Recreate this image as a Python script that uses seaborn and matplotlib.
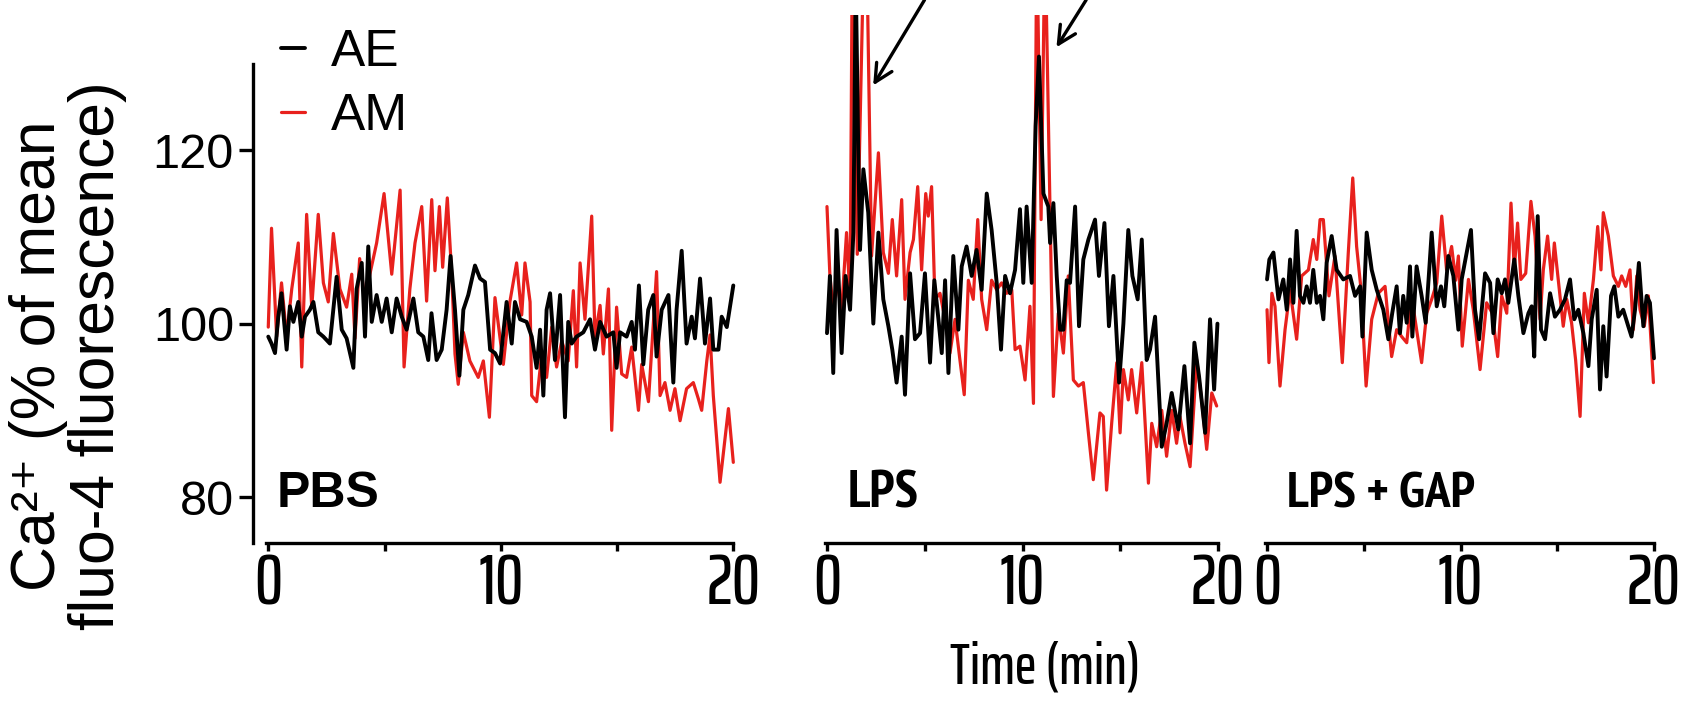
import matplotlib
matplotlib.use('Agg')
import matplotlib.pyplot as plt
import seaborn as sns

# ---- data (time in min, Ca2+ in % of mean fluo-4) ----
pbs_t_ae = [0, 0.14, 0.29, 0.43, 0.57, 0.79, 0.93, 1.08, 1.29, 1.44,
            1.58, 1.79, 1.94, 2.15, 2.37, 2.65, 2.94, 3.16, 3.37, 3.66,
            3.80, 4.02, 4.16, 4.30, 4.45, 4.66, 4.88, 5.09, 5.31, 5.52,
            5.74, 5.95, 6.24, 6.45, 6.67, 6.88, 7.02, 7.24, 7.46, 7.67,
            7.84, 8.03, 8.22, 8.39, 8.60, 8.89, 9.11, 9.32, 9.54, 9.75,
            9.97, 10.25, 10.47, 10.61, 10.83, 11.11, 11.33, 11.54, 11.69, 11.83,
            11.97, 12.12, 12.33, 12.55, 12.76, 12.90, 13.05, 13.26, 13.55, 13.84,
            14.05, 14.27, 14.55, 14.84, 14.98, 15.13, 15.41, 15.63, 15.77, 15.94,
            16.13, 16.34, 16.56, 16.70, 16.92, 17.21, 17.42, 17.56, 17.78, 17.99,
            18.21, 18.35, 18.57, 18.78, 19.00, 19.14, 19.36, 19.50, 19.72, 20.0]
pbs_ae = [98.5, 97.7, 96.6, 100.8, 103.5, 97, 102, 100.2, 102.5, 98.5,
          100.8, 101.6, 102.5, 99, 98.5, 97.7, 105.4, 99.3, 98.3, 94.9,
          104, 107, 98.5, 108.9, 100.2, 103.3, 100.2, 102.9, 99, 102.9,
          100.8, 99.3, 102.9, 99, 98.5, 95.8, 101.2, 95.8, 97, 101.6,
          107.8, 101.6, 94, 101.6, 103.3, 106.7, 105.2, 104.8, 97, 96.6,
          95.4, 102.5, 97.7, 102.5, 100.5, 100.2, 98.5, 94.9, 99.3, 91.7,
          101.6, 103.5, 95.8, 103.3, 89.2, 100.2, 97.7, 98.5, 99, 100.5,
          97, 100.2, 98.5, 99, 94.9, 99, 98.5, 100.2, 97, 104.4,
          95.3, 101.6, 103.3, 96.2, 101.6, 103.3, 93.2, 101.6, 108.4, 97.7,
          100.8, 98.3, 105.2, 97.7, 102.9, 97, 97, 100.8, 99.6, 104.4]

pbs_t_am = [0, 0.14, 0.36, 0.57, 0.79, 1.01, 1.29, 1.44, 1.65, 1.87,
            2.15, 2.37, 2.58, 2.80, 3.08, 3.37, 3.59, 3.73, 3.93, 4.16,
            4.37, 4.66, 4.98, 5.31, 5.67, 5.84, 6.09, 6.31, 6.60, 6.81,
            7.03, 7.17, 7.36, 7.50, 7.70, 7.89, 8.03, 8.17, 8.39, 8.67,
            9.03, 9.25, 9.51, 9.75, 10.11, 10.39, 10.68, 10.90, 11.04, 11.26,
            11.33, 11.54, 11.76, 11.97, 12.19, 12.40, 12.62, 12.90, 13.12, 13.26,
            13.41, 13.62, 13.91, 14.05, 14.27, 14.41, 14.63, 14.77, 14.98, 15.20,
            15.41, 15.63, 15.92, 16.06, 16.35, 16.70, 16.85, 17.06, 17.28, 17.49,
            17.71, 17.99, 18.28, 18.50, 18.64, 18.86, 19.00, 19.14, 19.43, 19.79,
            20.0]
pbs_am = [99.6, 111, 98.5, 104.7, 98.5, 104, 109.3, 95, 112.6, 101.9,
          112.6, 104.7, 102.5, 110.4, 104, 101.9, 105.7, 98.3, 107.5, 102.6,
          105.7, 109.3, 115, 105.7, 115.4, 95, 104, 109.3, 113.5, 102.6,
          114.3, 106.1, 113.5, 106.5, 114.5, 105.7, 96.5, 93, 99, 95.7,
          93.8, 95.7, 89.2, 103, 95.3, 102.5, 107, 101, 107, 102.5,
          91.7, 91, 96.5, 93.8, 99.6, 95, 98, 95.7, 103.8, 95,
          107, 100.5, 112.4, 98.5, 102.1, 96.5, 104, 87.7, 101.9, 94.2,
          93.8, 97.3, 90, 95.3, 91, 106, 91.7, 93.2, 90, 92.5,
          88.8, 92.5, 93.2, 91.3, 90, 95.7, 98.7, 91.7, 81.7, 90.2,
          84]

lps_t_ae = [0, 0.15, 0.32, 0.49, 0.75, 0.95, 1.18, 1.35, 1.47, 1.60,
            1.69, 1.86, 2.11, 2.37, 2.63, 2.88, 3.14, 3.34, 3.56, 3.82,
            3.99, 4.25, 4.50, 4.76, 5.01, 5.27, 5.49, 5.70, 5.87, 6.04,
            6.21, 6.46, 6.72, 6.89, 7.14, 7.40, 7.65, 7.91, 8.17, 8.42,
            8.68, 8.90, 9.11, 9.36, 9.62, 9.87, 10.04, 10.21, 10.47, 10.67,
            10.84, 11.07, 11.32, 11.41, 11.58, 11.75, 11.92, 12.09, 12.26, 12.43,
            12.69, 12.89, 13.11, 13.37, 13.71, 13.91, 14.19, 14.42, 14.65, 14.94,
            15.16, 15.41, 15.62, 15.89, 16.10, 16.35, 16.52, 16.78, 17.12, 17.37,
            17.63, 17.97, 18.28, 18.57, 18.79, 19.03, 19.34, 19.59, 19.80, 19.97]
lps_ae = [98.9, 105.5, 94.3, 110.8, 96.6, 105.5, 101.6, 110.5, 140, 120,
          108.5, 117.8, 112.8, 100, 110.5, 102.8, 99.7, 97, 93.2, 98.5,
          91.8, 105.8, 98.2, 98.9, 105.8, 95.5, 105, 100.5, 96.6, 105,
          94.3, 107.8, 99.3, 106.6, 108.9, 105.5, 108.5, 103.9, 115, 110.8,
          104.7, 97, 105.5, 103.5, 106.2, 113.2, 104.7, 113.5, 104.7, 122.8,
          130.8, 115, 113.5, 109.3, 113.9, 105.5, 99.3, 99.3, 105, 104.7,
          113.5, 99.7, 107.4, 109.7, 112, 105.5, 111.6, 99.7, 105.5, 93.2,
          100, 110.8, 105.5, 102.8, 109.7, 95.8, 97, 100.8, 85.8, 88.5,
          92, 87.8, 95.1, 86.2, 97.8, 93.9, 87.4, 100.5, 92.4, 100]

lps_t_am = [0, 0.15, 0.32, 0.49, 0.75, 1.0, 1.18, 1.30, 1.55, 1.90,
            2.02, 2.28, 2.63, 2.88, 3.14, 3.34, 3.56, 3.82, 3.99, 4.25,
            4.42, 4.64, 4.84, 5.05, 5.18, 5.35, 5.52, 5.78, 6.04, 6.29,
            6.55, 6.80, 7.02, 7.23, 7.48, 7.71, 7.91, 8.17, 8.42, 8.68,
            8.93, 9.19, 9.45, 9.62, 9.87, 10.13, 10.38, 10.56, 10.73, 10.95,
            11.15, 11.58, 11.83, 12.09, 12.34, 12.60, 12.86, 13.11, 13.37, 13.62,
            13.96, 14.13, 14.30, 14.56, 14.82, 14.99, 15.16, 15.41, 15.58, 15.84,
            16.10, 16.44, 16.61, 16.86, 17.12, 17.37, 17.63, 17.88, 18.05, 18.31,
            18.57, 18.91, 19.16, 19.42, 19.68, 19.93]
lps_am = [113.5, 105.5, 101.6, 105, 101.6, 110.5, 102.8, 145, 108, 145,
          145, 107.8, 119.7, 108.2, 105.8, 112, 105.5, 114.3, 102.8, 108.2,
          109.7, 115.8, 106.2, 115, 112.4, 115.8, 102.8, 103.5, 100.5, 96.6,
          100.5, 95.8, 91.8, 105, 102.8, 112, 102.8, 99.3, 105, 103.9,
          104.7, 103.5, 103.9, 97, 97.4, 93.5, 102, 90.8, 145, 112,
          145, 91.6, 101.2, 96.6, 105.5, 93.5, 92.8, 93.2, 87.4, 82,
          89.7, 89.3, 80.8, 88.5, 95.5, 87.4, 94.7, 91.2, 94.7, 89.7,
          95.5, 81.6, 88.5, 85.8, 90, 84.7, 90, 86.2, 89.3, 86.2,
          83.5, 95.8, 91.2, 85.5, 92, 90.5]

gap_t_ae = [0, 0.12, 0.33, 0.59, 0.84, 1.02, 1.19, 1.36, 1.53, 1.70,
            1.88, 2.05, 2.22, 2.39, 2.57, 2.74, 2.91, 3.08, 3.34, 3.60,
            3.94, 4.29, 4.55, 4.81, 4.93, 5.15, 5.41, 5.67, 6.01, 6.27,
            6.47, 6.70, 6.87, 7.04, 7.22, 7.39, 7.51, 7.73, 7.99, 8.20,
            8.51, 8.77, 8.99, 9.16, 9.37, 9.63, 9.89, 10.06, 10.32, 10.54,
            10.75, 10.96, 11.27, 11.53, 11.70, 11.92, 12.13, 12.30, 12.47, 12.78,
            12.99, 13.25, 13.51, 13.68, 13.81, 13.99, 14.16, 14.37, 14.63, 14.88,
            15.14, 15.40, 15.66, 15.88, 16.09, 16.35, 16.61, 16.78, 17.04, 17.21,
            17.38, 17.55, 17.78, 17.95, 18.16, 18.41, 18.67, 18.84, 19.02, 19.22,
            19.45, 19.62, 19.79, 20.0]
gap_ae = [105.1, 107.4, 108.2, 102.8, 105.1, 101.6, 107.4, 102.4, 110.7, 103.2,
          102.4, 104.3, 102.4, 106.2, 102.4, 103.2, 100.5, 107, 110.1, 106.2,
          105.1, 105.5, 103.2, 104.3, 98.5, 110.5, 106.2, 103.9, 101.6, 98.2,
          101.2, 104.3, 98.9, 103.2, 100.1, 106.6, 98.5, 106.6, 103.2, 100.1,
          110.5, 102, 104.3, 102, 107.8, 105.5, 99.3, 105.1, 108.2, 110.8,
          101.6, 98.2, 105.8, 104.7, 98.9, 105.1, 103.5, 105.1, 102.4, 107.4,
          103.2, 98.9, 101.2, 102, 96.2, 112.4, 99.3, 98.2, 103.5, 100.8,
          101.6, 102.8, 105.1, 100.5, 101.6, 98.9, 95.1, 100.5, 103.9, 92.4,
          99.7, 93.9, 103.2, 104.3, 100.8, 101.6, 99.7, 98.5, 101.6, 107,
          99.7, 103.2, 102.4, 96]

gap_t_am = [0, 0.1, 0.25, 0.41, 0.67, 0.93, 1.19, 1.53, 1.79, 2.14,
            2.39, 2.57, 2.74, 2.91, 3.20, 3.51, 3.89, 4.20, 4.43, 4.63,
            4.86, 5.12, 5.41, 5.75, 6.10, 6.44, 6.70, 6.96, 7.22, 7.47,
            7.73, 7.99, 8.25, 8.51, 8.77, 9.03, 9.28, 9.54, 9.75, 9.89,
            10.09, 10.41, 10.66, 11.01, 11.35, 11.64, 11.92, 12.13, 12.39, 12.61,
            12.78, 12.95, 13.12, 13.37, 13.64, 13.85, 14.11, 14.28, 14.50, 14.71,
            14.85, 15.05, 15.31, 15.49, 15.74, 15.95, 16.18, 16.40, 16.61, 16.87,
            17.09, 17.26, 17.38, 17.64, 17.90, 18.16, 18.33, 18.54, 18.76, 18.93,
            19.11, 19.28, 19.50, 19.71, 19.97]
gap_am = [101.6, 95.5, 103.5, 102, 92.8, 99.3, 103.9, 98.2, 105.5, 106.2,
          109.7, 107.4, 112, 112, 103.2, 107.8, 95.5, 108.2, 116.8, 108.9,
          103.9, 92.8, 100.5, 103.5, 104.3, 96.2, 99.3, 98.5, 97.8, 103.2,
          99.3, 95.5, 101.2, 102.8, 104.7, 112.4, 106.2, 108.9, 105, 107.8,
          97.4, 105.1, 101.6, 94.7, 102.4, 101.2, 96.2, 103.2, 101.2, 113.9,
          106.2, 111.6, 105.1, 105.8, 114.1, 110.1, 100.5, 106.2, 110.1, 105.1,
          109.3, 105.1, 99.7, 102.8, 100.1, 95.8, 89.3, 103.5, 100.1, 105.1,
          111.2, 106.2, 112.8, 110.1, 105.5, 104.3, 105.5, 104.3, 106.2, 99.3,
          105.5, 101.6, 99.7, 103.2, 93.2]

panel_names = ['PBS', 'LPS', 'LPS + GAP']
x_ticks = [0, 5, 10, 15, 20]
x_ticklabels = ['0', '', '10', '', '20']
y_ticks = [80, 100, 120]

RED = '#e8211d'
XCOND = ['Saira ExtraCondensed', 'Archivo Narrow', 'DejaVu Sans']
BOLD_NARROW = ['PT Sans Narrow', 'Liberation Sans', 'DejaVu Sans']

sns.set_style('ticks')
plt.rcParams['font.family'] = ['Liberation Sans', 'DejaVu Sans']
plt.rcParams['axes.linewidth'] = 2.4
for key in ['text.color', 'axes.labelcolor', 'xtick.color', 'ytick.color', 'axes.edgecolor']:
    plt.rcParams[key] = 'black'

fig = plt.figure(figsize=(16.96, 7.19), dpi=100)
bottom, height = 0.2448, 0.7344
ax1 = fig.add_axes([0.14858, bottom, 0.28791, height])
ax2 = fig.add_axes([0.47954, bottom, 0.24210, height])
ax3 = fig.add_axes([0.73909, bottom, 0.23956, height])

series = [(ax1, pbs_t_ae, pbs_ae, pbs_t_am, pbs_am),
          (ax2, lps_t_ae, lps_ae, lps_t_am, lps_am),
          (ax3, gap_t_ae, gap_ae, gap_t_am, gap_am)]

for ax, ta, a, tm, m in series:
    sns.lineplot(x=tm, y=m, ax=ax, color=RED, lw=2.3, estimator=None, sort=False)
    sns.lineplot(x=ta, y=a, ax=ax, color='black', lw=2.8, estimator=None, sort=False)
    ax.set_xlim(-0.7, 20.3)
    ax.set_ylim(74.7, 135.6)
    ax.set_xticks(x_ticks)
    ax.set_xticklabels(x_ticklabels, family=XCOND, fontweight='medium')
    ax.tick_params(axis='x', length=6, width=2.4, labelsize=51, pad=0)
    ax.spines['bottom'].set_bounds(-0.08, 20)
    ax.set_xlabel('')
    ax.set_ylabel('')
    ax.patch.set_alpha(0)

sns.despine(ax=ax1)
ax1.spines['left'].set_position(('data', -0.64))
ax1.spines['left'].set_bounds(74.7, 130)
ax1.set_yticks(y_ticks)
ax1.tick_params(axis='y', length=10, width=2.4, labelsize=35, pad=4)

for ax in (ax2, ax3):
    sns.despine(ax=ax, left=True)
    ax.set_yticks([])

# panel labels
ax1.text(0.36, 78.8, panel_names[0], fontsize=36, fontweight='bold', va='baseline')
ax2.text(1.07, 78.8, panel_names[1], fontsize=38, fontweight='bold', va='baseline',
         family=BOLD_NARROW)
ax3.text(1.03, 78.8, panel_names[2], fontsize=37, fontweight='bold', va='baseline',
         family=BOLD_NARROW)

# arrows pointing at the spikes
arrow = dict(arrowstyle='->', lw=2.4, color='black', mutation_scale=32)
ax2.annotate('', xy=(2.29, 127.2), xytext=(5.06, 137.6), arrowprops=arrow,
             annotation_clip=False)
ax2.annotate('', xy=(11.66, 131.6), xytext=(13.33, 137.6), arrowprops=arrow,
             annotation_clip=False)

# legend
h_ae, h_am = ax1.lines[1], ax1.lines[0]
ax1.legend([h_ae, h_am], ['AE', 'AM'], loc='upper left',
           bbox_to_anchor=(281 / 1696, 1 - 28 / 719), bbox_transform=fig.transFigure,
           frameon=False, fontsize=37, handlelength=0.47, handletextpad=0.5,
           labelspacing=0.29, borderpad=0, borderaxespad=0)

fig.text(68 / 1696, 1 - 356 / 719, 'Ca²⁺ (% of mean\nfluo-4 fluorescence)',
         rotation=90, ha='center', va='center', fontsize=45, linespacing=1.0,
         multialignment='center')
fig.text(1045 / 1696, 1 - 668 / 719, 'Time (min)', ha='center', va='center',
         fontsize=42, family=XCOND, fontweight='medium')

fig.savefig('out.png', dpi=100)
